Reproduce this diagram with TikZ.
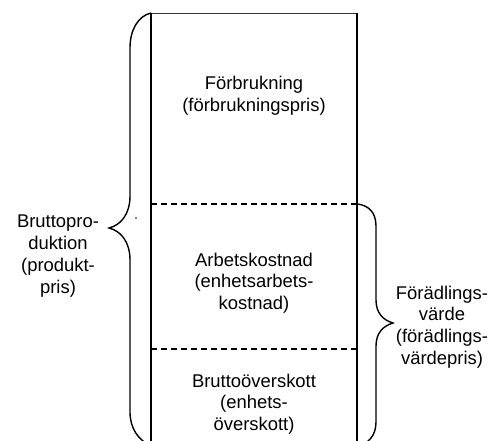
\documentclass[tikz,border=0pt]{standalone}
\usepackage{fontspec}
\setmainfont{Liberation Sans}
\begin{document}
\begin{tikzpicture}[x=1bp,y=-1bp,
  label/.style={align=center,font=\fontsize{18.5}{21.8}\selectfont,text=black,inner sep=0pt},
  wall/.style={line width=1.6bp,black},
  divider/.style={line width=1.1bp,dash pattern=on 6bp off 4bp,black},
  brace/.style={line width=1.4bp,black}]
\useasboundingbox (0,0) rectangle (491,441);
% column outline
\coordinate (tl) at (151,13);
\coordinate (tr) at (357,13);
\coordinate (bl) at (151,446);
\coordinate (br) at (357,446);
\draw[line width=0.8bp,black!80] (tl) -- (tr);
\draw[wall] (tl) -- (bl);
\draw[wall] (tr) -- (br);
% dividers
\coordinate (d1l) at (151,204);
\coordinate (d1r) at (357,204);
\coordinate (d2l) at (151,349);
\coordinate (d2r) at (357,349);
\draw[divider] (d1l) -- (d1r);
\draw[divider] (d2l) -- (d2r);
% section texts
\node[label] (forb) at (254,96) {Förbrukning\\(förbrukningspris)};
\node[label] (arb) at (254,283) {Arbetskostnad\\(enhetsarbets-\\kostnad)};
\node[label] (brutto) at (254,404) {Bruttoöverskott\\(enhets-\\överskott)};
% left brace
\draw[brace] (tl) .. controls (138,16) and (130,30) .. (130,48)
  -- (130,196) .. controls (130,214) and (121,225) .. (109,228)
  .. controls (121,231) and (130,242) .. (130,260)
  -- (130,412) .. controls (130,428) and (138,440) .. (bl);
\node[label] (bp) at (58,256) {Bruttopro-\\duktion\\(produkt-\\pris)};
\fill (136,218) circle (0.8bp);
% right brace
\draw[brace] (d1r) .. controls (368,205) and (376,212) .. (376,226)
  -- (376,300) .. controls (376,313) and (383,320) .. (393,323)
  .. controls (383,326) and (376,333) .. (376,346)
  -- (376,422) .. controls (376,436) and (368,444) .. (br);
\node[label] (fv) at (442,327) {Förädlings-\\värde\\(förädlings-\\värdepris)};
\end{tikzpicture}
\end{document}
